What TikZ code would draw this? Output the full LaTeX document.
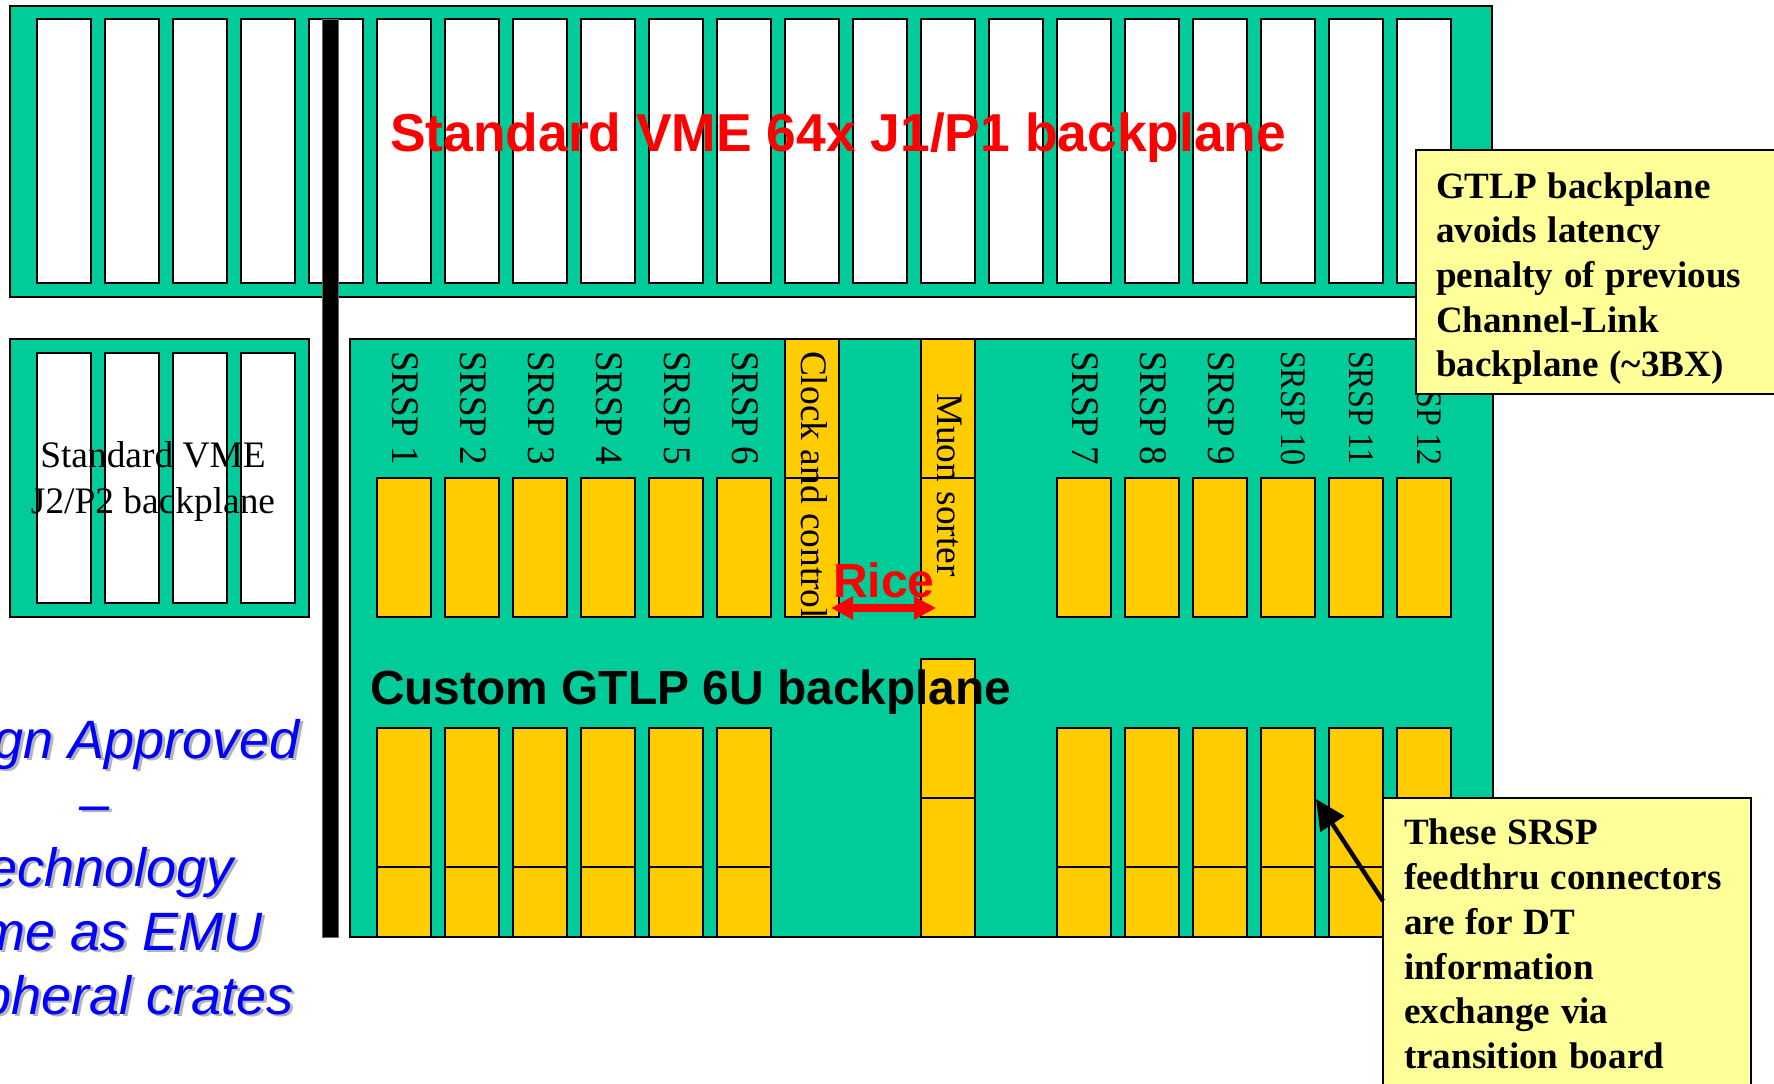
\documentclass[tikz,border=0pt]{standalone}
\usepackage{fontspec}
\setmainfont{Liberation Serif}
\setsansfont{Liberation Sans}
\usetikzlibrary{arrows.meta}
\definecolor{boardgreen}{HTML}{00CC99}
\definecolor{connyellow}{HTML}{FFCC00}
\definecolor{noteyellow}{HTML}{FFFF99}
\definecolor{shadowgrey}{HTML}{B4B4B4}
\newcommand{\fsz}[1]{\fontsize{#1}{#1}\selectfont}
\tikzset{
  x=0.5pt,y=-0.5pt,
  box/.style={draw=black,line width=1pt,rectangle,inner sep=0pt,outer sep=0pt,anchor=north west},
  panel/.style={box,fill=boardgreen},
  slotwhite/.style={box,fill=white,minimum width=27.25pt},
  slotyellow/.style={box,fill=connyellow,minimum width=27.25pt},
  note/.style={box,fill=noteyellow,align=left,font=\rmfamily\bfseries\fsz{18.55},execute at begin node={\setlength{\baselineskip}{22.35pt}\spaceskip=0.29em\relax}},
  vlabel/.style={inner sep=0pt,outer sep=0pt,rotate=-90,anchor=base west,font=\rmfamily\fsz{19.5}},
  vlabelsmall/.style={vlabel,font=\rmfamily\fsz{18}},
  bluetext/.style={inner sep=0pt,outer sep=0pt,anchor=base east,text=blue,font=\sffamily\itshape\fsz{27}},
  blueshadow/.style={bluetext,text=shadowgrey},
  titletext/.style={inner sep=0pt,outer sep=0pt,anchor=base west,font=\sffamily\bfseries},
}
\begin{document}
\begin{tikzpicture}
\useasboundingbox (0,0) rectangle (1774,1083);
% panels
\node[panel,minimum width=741pt,minimum height=145.5pt] (vmetop) at (10,6) {};
\node[panel,minimum width=149.5pt,minimum height=139pt] (vmelow) at (10,339) {};
\node[panel,minimum width=571.5pt,minimum height=299pt] (gtlp) at (350,339) {};
% top slots
\foreach \k in {0,...,20}
  \node[slotwhite,minimum height=132pt] (top\k) at ({36.5+68*\k},19) {};
\foreach \k in {0,...,3}
  \node[slotwhite,minimum height=125pt] (low\k) at ({36.5+68*\k},353) {};
% yellow connectors, upper row
\foreach \k in {5,...,10,15,16,...,20}
  \node[slotyellow,minimum height=69.5pt] (up\k) at ({36.5+68*\k},478) {};
% clock and muon
\foreach \k in {11,13} {
  \node[slotyellow,minimum height=69.5pt] (upt\k) at ({36.5+68*\k},339) {};
  \node[slotyellow,minimum height=69.5pt] (upb\k) at ({36.5+68*\k},478) {};
}
% lower rows
\foreach \k in {5,...,10,15,16,...,20} {
  \node[slotyellow,minimum height=69.5pt] (ba\k) at ({36.5+68*\k},728) {};
  \node[slotyellow,minimum height=35pt] (bb\k) at ({36.5+68*\k},867) {};
}
\node[slotyellow,minimum height=69.5pt] (muona) at ({36.5+68*13},659) {};
\node[slotyellow,minimum height=69.5pt] (muonb) at ({36.5+68*13},798) {};
% black bar
\node[box,fill=black,draw=black!60,line width=0.5pt,minimum width=8.25pt,minimum height=459pt] (bar) at (322,19) {};
% slot labels
\foreach \k/\t in {5/1,6/2,7/3,8/4,9/5,10/6,15/7,16/8,17/9}
  \node[vlabel] (srsp\t) at ({36.5+68*\k+15.5},351) {\scalebox{0.95}[1]{SRSP \t}};
\foreach \k/\t in {18/10,19/11,20/12}
  \node[vlabelsmall] (srsp\t) at ({36.5+68*\k+20.5},351) {\scalebox{0.89}[1]{SRSP \t}};
\node[vlabelsmall,font=\rmfamily\fsz{18.7}] (clocklabel) at (801,351) {Clock and control};
\node[vlabelsmall,font=\rmfamily\fsz{18.7}] (muonlabel) at (937,393) {Muon sorter};
% titles
\node[titletext,text=red,font=\sffamily\bfseries\fsz{26.7}] (title) at (390,151) {Standard VME 64x J1/P1 backplane};
\node[titletext,text=black,font=\sffamily\bfseries\fsz{23.95}] (custom) at (370,704) {Custom GTLP 6U backplane};
\node[titletext,text=red,font=\sffamily\bfseries\fsz{24}] (rice) at (833,597) {Rice};
\node[inner sep=0pt,align=center,font=\rmfamily\fsz{18.7},execute at begin node={\setlength{\baselineskip}{22.6pt}}] (j2) at (153,481.5) {Standard VME\\J2/P2 backplane};
% rice arrow
\coordinate (ricel) at (831,608);
\coordinate (ricer) at (936,608);
\draw[red,line width=4pt,{Triangle[length=11pt,width=11pt]}-{Triangle[length=11pt,width=11pt]}] (ricel) -- (ricer);
% blue text with shadow
\foreach \n/\y/\xx/\t in {a/758/300/Design Approved,b/822/110/–,c/886/234/Technology,d/950/263/Same as EMU,e/1014/294/Peripheral crates} {
  \node[blueshadow] (s\n) at ({\xx+2.5},{\y+2.5}) {\t};
  \node[bluetext] (t\n) at (\xx,\y) {\t};
}
% notes
\node[note,minimum width=200pt,minimum height=122pt,text width=180pt,inner xsep=10pt] (note1) at (1416,150) {\rule{0pt}{19.5pt}GTLP backplane\\avoids latency\\penalty of previous\\Channel-Link\\backplane (\textasciitilde 3BX)};
\node[note,minimum width=183.5pt,minimum height=146pt,text width=163pt,inner xsep=10.5pt] (note2) at (1383,798) {These SRSP\\feedthru connectors\\are for DT\\information\\exchange via\\transition board};
\coordinate (tip) at (1316,799);
\coordinate (tail) at (1383,901);
\draw[black,line width=2.2pt,-{Triangle[length=15pt,width=14pt]}] (tail) -- (tip);
\end{tikzpicture}
\end{document}
